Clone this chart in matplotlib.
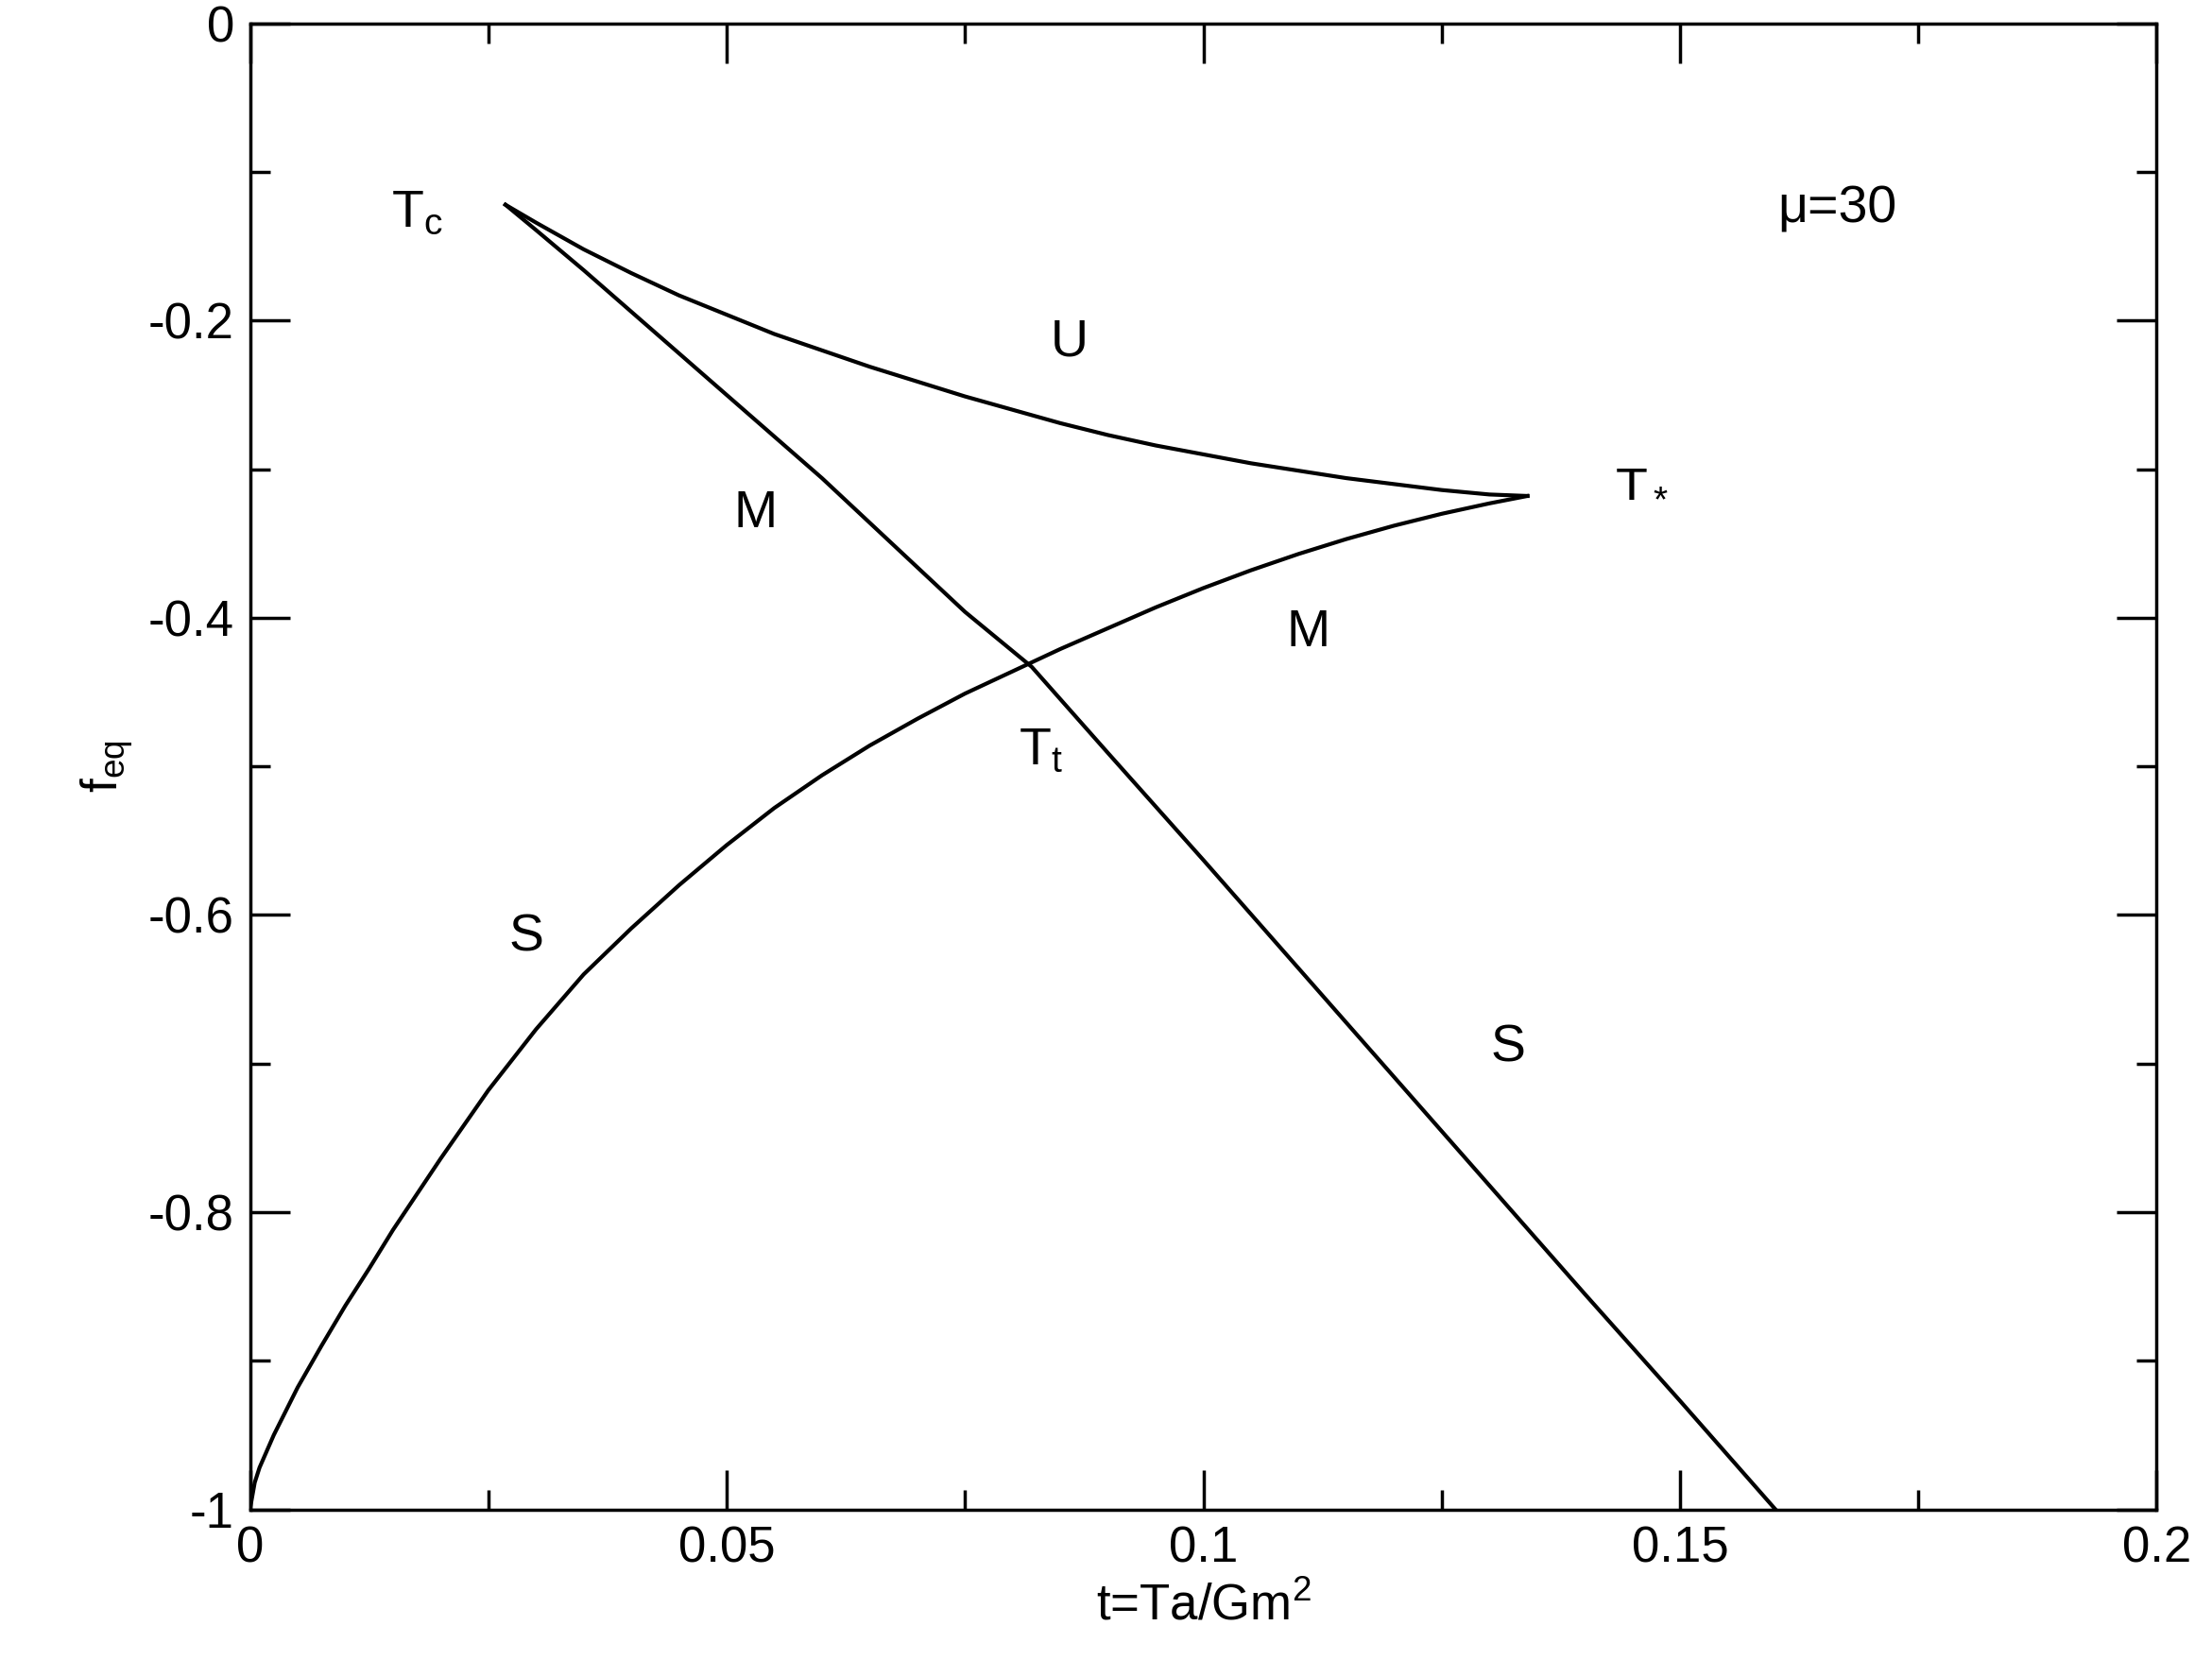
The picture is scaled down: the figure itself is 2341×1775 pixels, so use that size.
import matplotlib
matplotlib.use("Agg")
import matplotlib.pyplot as plt
from matplotlib.ticker import MultipleLocator

plt.rcParams["font.family"] = ["Liberation Sans", "DejaVu Sans"]
plt.rcParams["mathtext.fontset"] = "custom"
plt.rcParams["mathtext.rm"] = "Liberation Sans"
plt.rcParams["mathtext.it"] = "Liberation Sans"

# upper branch Tc -> T*
up_x = [0.0268, 0.03, 0.035, 0.04, 0.045, 0.05, 0.055, 0.06, 0.065, 0.07, 0.075, 0.08, 0.085,
        0.09, 0.095, 0.10, 0.105, 0.11, 0.115, 0.12, 0.125, 0.13, 0.134]
up_y = [-0.122, -0.134, -0.152, -0.168, -0.183, -0.196, -0.209, -0.220, -0.231, -0.241, -0.251,
        -0.260, -0.269, -0.277, -0.284, -0.290, -0.296, -0.301, -0.306, -0.310, -0.314, -0.317, -0.318]
# lower branch origin -> T*
lo_x = [0.0, 0.0005, 0.001, 0.0025, 0.005, 0.0075, 0.01, 0.0125, 0.015, 0.0175, 0.02, 0.025, 0.03,
        0.035, 0.04, 0.045, 0.05, 0.055, 0.06, 0.065, 0.07, 0.075, 0.08, 0.085, 0.09, 0.095,
        0.10, 0.105, 0.11, 0.115, 0.12, 0.125, 0.13, 0.134]
lo_y = [-1.0, -0.982, -0.972, -0.950, -0.918, -0.890, -0.863, -0.838, -0.812, -0.788, -0.764,
        -0.718, -0.677, -0.640, -0.609, -0.580, -0.553, -0.528, -0.506, -0.486, -0.468, -0.451,
        -0.436, -0.421, -0.407, -0.393, -0.380, -0.368, -0.357, -0.347, -0.338, -0.330, -0.323, -0.318]
# line Tc -> f=-1
ln_x = [0.0268, 0.03, 0.035, 0.04, 0.045, 0.05, 0.055, 0.06, 0.065, 0.07, 0.075, 0.082,
        0.09, 0.10, 0.11, 0.12, 0.13, 0.14, 0.15, 0.16]
ln_y = [-0.122, -0.139, -0.166, -0.194, -0.222, -0.250, -0.278, -0.306, -0.336, -0.366, -0.396,
        -0.433, -0.491, -0.563, -0.636, -0.709, -0.782, -0.855, -0.927, -1.0]

labels = [("T$_c$", 0.0175, -0.128), ("U", 0.086, -0.215), ("T$_*$", 0.146, -0.31),
          ("M", 0.053, -0.33), ("M", 0.111, -0.41), ("T$_t$", 0.083, -0.49),
          ("S", 0.029, -0.615), ("S", 0.132, -0.69), ("μ=30", 0.1665, -0.125)]

fig, ax = plt.subplots(figsize=(23.41, 17.75), dpi=100)
fig.subplots_adjust(left=0.113, right=0.975, top=0.986, bottom=0.1)
for xs, ys in [(up_x, up_y), (lo_x, lo_y), (ln_x, ln_y)]:
    ax.plot(xs, ys, color="black", lw=3)
for s, x, y in labels:
    ax.text(x, y, s, fontsize=40, ha="center", va="center")

ax.set_xlim(0, 0.2); ax.set_ylim(-1, 0)
ax.xaxis.set_minor_locator(MultipleLocator(0.025))
ax.yaxis.set_minor_locator(MultipleLocator(0.1))
ax.set_xticks([0, 0.05, 0.1, 0.15, 0.2], ["0", "0.05", "0.1", "0.15", "0.2"])
ax.set_yticks([0, -0.2, -0.4, -0.6, -0.8, -1], ["0", "-0.2", "-0.4", "-0.6", "-0.8", "-1"])
ax.tick_params(which="both", direction="in", top=True, right=True, width=2.5, labelsize=38, pad=12)
ax.tick_params(which="major", length=30)
ax.tick_params(which="minor", length=15)
for sp in ax.spines.values():
    sp.set_linewidth(2.5)
ax.set_xlabel("t=Ta/Gm$^2$", fontsize=38, labelpad=8)
ax.set_ylabel("f$_{eq}$", fontsize=38, labelpad=10)
fig.savefig("out.png", dpi=100)
